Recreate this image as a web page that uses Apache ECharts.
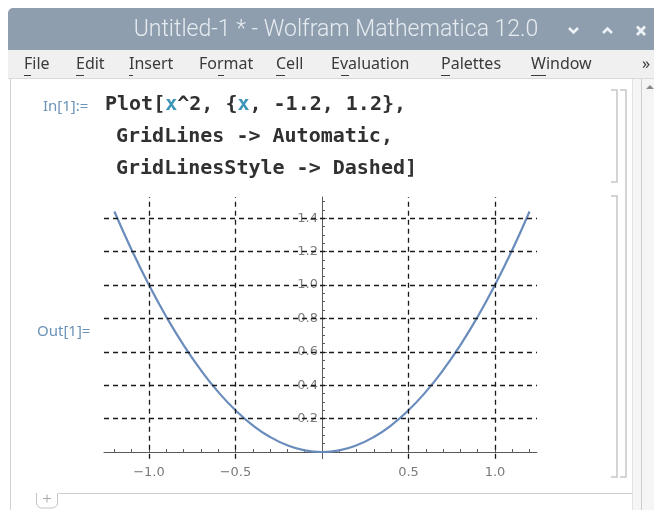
<!DOCTYPE html>
<html>
<head>
<meta charset="utf-8">
<script src="https://cdn.jsdelivr.net/npm/echarts@6/dist/echarts.min.js"></script>
<style>
  html, body { margin: 0; padding: 0; background: #fff; }
  #chart { width: 654px; height: 510px; }
</style>
</head>
<body>
<div id="chart"></div>
<script>
  // samples of the plotted curve
  const curveX = [-1.2, -1.1, -1.0, -0.9, -0.8, -0.7, -0.6, -0.5, -0.4, -0.3, -0.2, -0.1, 0,
    0.1, 0.2, 0.3, 0.4, 0.5, 0.6, 0.7, 0.8, 0.9, 1.0, 1.1, 1.2];
  const curveY = [1.44, 1.21, 1.0, 0.81, 0.64, 0.49, 0.36, 0.25, 0.16, 0.09, 0.04, 0.01, 0,
    0.01, 0.04, 0.09, 0.16, 0.25, 0.36, 0.49, 0.64, 0.81, 1.0, 1.21, 1.44];

  // dashed grid lines
  const xGrid = [-1.0, -0.5, 0.5, 1.0];
  const yGrid = [0.2, 0.4, 0.6, 0.8, 1.0, 1.2, 1.4];

  // tick marks / labels
  const xMajorTicks = [-1.0, -0.5, 0.5, 1.0];
  const xMinorTicks = [-1.2, -1.1, -0.9, -0.8, -0.7, -0.6, -0.4, -0.3, -0.2, -0.1,
    0.1, 0.2, 0.3, 0.4, 0.6, 0.7, 0.8, 0.9, 1.1, 1.2];
  const yMajorTicks = [0.2, 0.4, 0.6, 0.8, 1.0, 1.2, 1.4];
  const yMinorTicks = [0.05, 0.1, 0.15, 0.25, 0.3, 0.35, 0.45, 0.5, 0.55, 0.65, 0.7, 0.75,
    0.85, 0.9, 0.95, 1.05, 1.1, 1.15, 1.25, 1.3, 1.35, 1.45, 1.5];

  const menuItems = ['File', 'Edit', 'Insert', 'Format', 'Cell', 'Evaluation', 'Palettes', 'Window'];
  const menuX = [24, 76, 129, 199, 276, 331, 441, 531];

  const X_MIN = -1.26, X_MAX = 1.243, Y_MIN = -0.04, Y_MAX = 1.527;
  const gridBox = { left: 104, top: 197, width: 433, height: 261.7 };
  // shift the vertical axis from the grid's left edge to x = 0
  const yAxisOffset = -gridBox.width * (0 - X_MIN) / (X_MAX - X_MIN);

  const chart = echarts.init(document.getElementById('chart'));

  const fmt = v => (v < 0 ? '\u2212' : '') + Math.abs(v).toFixed(1);

  // menu bar text
  const menuEls = menuItems.map((m, i) => ({
    type: 'text', silent: true, x: menuX[i], y: 64,
    style: { text: m, font: '16px "Noto Sans"', fill: '#3a3a3a', verticalAlign: 'middle' }
  }));

  // underline under the access key of each menu
  const ulines = [[24, 31], [76, 84], [129, 133], [218, 224], [276, 285], [341, 349], [441, 450], [531, 546]];
  const ulineEls = ulines.map(u => ({
    type: 'line', silent: true, shape: { x1: u[0], y1: 75.5, x2: u[1], y2: 75.5 },
    style: { stroke: '#3a3a3a', lineWidth: 1 }
  }));

  const codeFont = 'bold 20px "DejaVu Sans Mono"';
  const bracket = { stroke: '#c6c6c6', lineWidth: 1.5, fill: null };

  chart.setOption({
    backgroundColor: '#fff',
    animation: false,

    grid: [
      Object.assign({}, gridBox),
      Object.assign({}, gridBox)
    ],

    // X轴: 0 = main axis (major ticks, labels), 1 = minor ticks
    xAxis: [{
      type: 'value', gridIndex: 0, min: X_MIN, max: X_MAX,
      axisLine: { onZero: true, lineStyle: { color: '#5a5a5a', width: 1 } },
      axisTick: { inside: true, length: 5, customValues: xMajorTicks, lineStyle: { color: '#5a5a5a' } },
      axisLabel: {
        customValues: xMajorTicks, formatter: fmt, margin: 7,
        color: '#7a7a7a', fontSize: 13, fontFamily: 'DejaVu Sans'
      },
      splitLine: { show: false }
    }, {
      type: 'value', gridIndex: 1, min: X_MIN, max: X_MAX,
      axisLine: { show: false, onZero: true },
      axisTick: { inside: true, length: 3, customValues: xMinorTicks, lineStyle: { color: '#5a5a5a' } },
      axisLabel: { show: false },
      splitLine: { show: false }
    }],

    // Y轴
    yAxis: [{
      type: 'value', gridIndex: 0, min: Y_MIN, max: Y_MAX,
      position: 'left', offset: yAxisOffset,
      axisLine: { onZero: false, lineStyle: { color: '#5a5a5a', width: 1 } },
      axisTick: { inside: true, length: 5, customValues: yMajorTicks, lineStyle: { color: '#5a5a5a' } },
      axisLabel: {
        customValues: yMajorTicks, formatter: fmt, margin: 4,
        color: '#7a7a7a', fontSize: 13, fontFamily: 'DejaVu Sans'
      },
      splitLine: { show: false }
    }, {
      type: 'value', gridIndex: 1, min: Y_MIN, max: Y_MAX,
      position: 'left', offset: yAxisOffset,
      axisLine: { show: false, onZero: false },
      axisTick: { inside: true, length: 3, customValues: yMinorTicks, lineStyle: { color: '#5a5a5a' } },
      axisLabel: { show: false },
      splitLine: { show: false }
    }],

    series: [{
      name: 'grid',
      type: 'line',
      data: [],
      z: 1,
      silent: true,
      markLine: {
        silent: true,
        symbol: 'none',
        label: { show: false },
        animation: false,
        lineStyle: { color: '#1a1a1a', width: 1.3, type: [5, 4] },
        emphasis: { disabled: true },
        data: xGrid.map(v => ({ xAxis: v })).concat(yGrid.map(v => ({ yAxis: v })))
      }
    }, {
      name: 'x^2',
      type: 'line',
      data: curveX.map((x, i) => [x, curveY[i]]),
      smooth: true,
      showSymbol: false,
      z: 3,
      silent: true,
      lineStyle: { color: '#6a8cbc', width: 2.2 }
    }],

    graphic: {
      elements: [
        // title bar
        { type: 'rect', silent: true, shape: { x: 8, y: 8, width: 646, height: 42, r: [5, 0, 0, 0] }, style: { fill: '#8e9eae' } },
        {
          type: 'text', silent: true, x: 336, y: 30,
          style: {
            text: 'Untitled-1 * - Wolfram Mathematica 12.0', font: '300 23px Roboto',
            fill: '#e6ebf0', align: 'center', verticalAlign: 'middle'
          }
        },
        { type: 'polyline', silent: true, shape: { points: [[569, 28], [573.5, 32.5], [578, 28]] }, style: { stroke: '#eef2f6', lineWidth: 2.6, fill: null } },
        { type: 'polyline', silent: true, shape: { points: [[603, 33], [607.5, 28.5], [612, 33]] }, style: { stroke: '#eef2f6', lineWidth: 2.6, fill: null } },
        { type: 'line', silent: true, shape: { x1: 637, y1: 26.5, x2: 645, y2: 35 }, style: { stroke: '#eef2f6', lineWidth: 2.8 } },
        { type: 'line', silent: true, shape: { x1: 645, y1: 26.5, x2: 637, y2: 35 }, style: { stroke: '#eef2f6', lineWidth: 2.8 } },

        // menu bar
        { type: 'rect', silent: true, shape: { x: 8, y: 50, width: 646, height: 28 }, style: { fill: '#f0f0f0' } },
        { type: 'line', silent: true, shape: { x1: 8, y1: 78.5, x2: 654, y2: 78.5 }, style: { stroke: '#dadada', lineWidth: 1 } },
        ...menuEls,
        ...ulineEls,
        { type: 'text', silent: true, x: 642, y: 64, style: { text: '\u00bb', font: '16px "Noto Sans"', fill: '#3a3a3a', verticalAlign: 'middle' } },

        // notebook frame
        { type: 'line', silent: true, shape: { x1: 10.5, y1: 79, x2: 10.5, y2: 510 }, style: { stroke: '#d2d2d2', lineWidth: 1 } },
        { type: 'rect', silent: true, shape: { x: 632, y: 79, width: 22, height: 431 }, style: { fill: '#f5f5f5' } },
        { type: 'line', silent: true, shape: { x1: 632.5, y1: 79, x2: 632.5, y2: 510 }, style: { stroke: '#e2e2e2', lineWidth: 1 } },
        { type: 'line', silent: true, shape: { x1: 641.5, y1: 79, x2: 641.5, y2: 510 }, style: { stroke: '#cdcdcd', lineWidth: 1 } },
        { type: 'polygon', silent: true, shape: { points: [[646, 89], [650, 85], [654, 89]] }, style: { fill: '#8a8a8a' } },

        // cell brackets
        { type: 'polyline', silent: true, shape: { points: [[611, 90], [617, 90], [617, 182], [611, 182]] }, style: bracket },
        { type: 'polyline', silent: true, shape: { points: [[611, 196], [617, 196], [617, 477], [611, 477]] }, style: bracket },
        { type: 'polyline', silent: true, shape: { points: [[620, 90], [626, 90], [626, 477], [620, 477]] }, style: bracket },

        // input cell
        {
          type: 'text', silent: true, x: 43, y: 107,
          style: { text: 'In[1]:=', font: '15px "Noto Sans"', fill: '#6b93b8', verticalAlign: 'middle' }
        },
        {
          type: 'text', silent: true, x: 105, y: 105,
          style: {
            text: 'Plot[{x|x}^2, {{x|x}, -1.2, 1.2},',
            font: codeFont, fill: '#303030', verticalAlign: 'middle',
            rich: { x: { font: codeFont, fill: '#3d95b8' } }
          }
        },
        {
          type: 'text', silent: true, x: 116, y: 137,
          style: { text: 'GridLines -> Automatic,', font: codeFont, fill: '#303030', verticalAlign: 'middle' }
        },
        {
          type: 'text', silent: true, x: 116, y: 169,
          style: { text: 'GridLinesStyle -> Dashed]', font: codeFont, fill: '#303030', verticalAlign: 'middle' }
        },

        // output label
        {
          type: 'text', silent: true, x: 37, y: 332,
          style: { text: 'Out[1]=', font: '15px "Noto Sans"', fill: '#6b93b8', verticalAlign: 'middle' }
        },

        // cell insertion line
        { type: 'line', silent: true, shape: { x1: 58, y1: 493.5, x2: 632, y2: 493.5 }, style: { stroke: '#cfcfcf', lineWidth: 1 } },
        {
          type: 'polyline', silent: true,
          shape: { points: [[36.5, 493], [36.5, 504], [38, 506.5], [41, 508], [53, 508], [56, 506.5], [57.5, 504], [57.5, 493.5]] },
          style: { stroke: '#c4c4c4', lineWidth: 1, fill: null }
        },
        { type: 'line', silent: true, shape: { x1: 43, y1: 498.5, x2: 51, y2: 498.5 }, style: { stroke: '#a8a8a8', lineWidth: 1 } },
        { type: 'line', silent: true, shape: { x1: 47, y1: 494.5, x2: 47, y2: 502.5 }, style: { stroke: '#a8a8a8', lineWidth: 1 } }
      ]
    }
  });
</script>
</body>
</html>
